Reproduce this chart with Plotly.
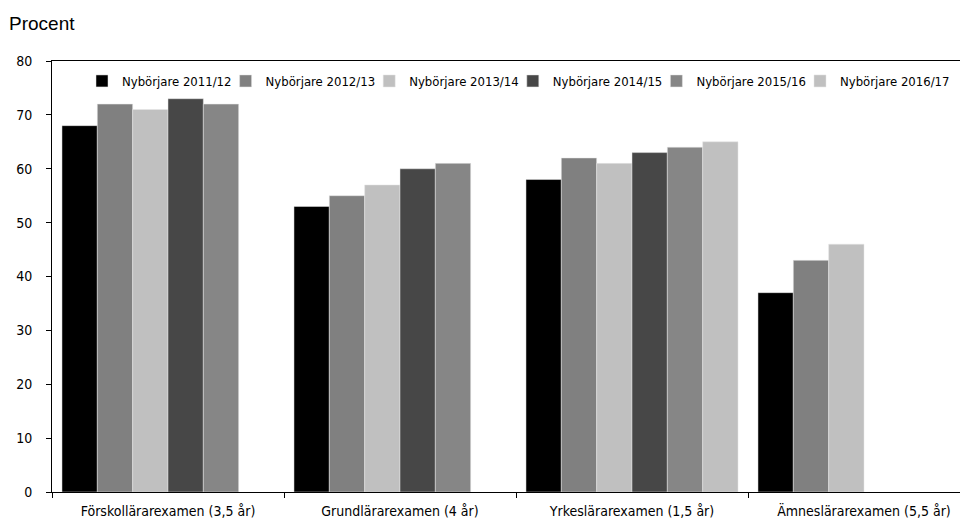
import plotly.graph_objects as go

categories = ["Förskollärarexamen (3,5 år)", "Grundlärarexamen (4 år)",
              "Yrkeslärarexamen (1,5 år)", "Ämneslärarexamen (5,5 år)"]
series_names = ["Nybörjare 2011/12", "Nybörjare 2012/13", "Nybörjare 2013/14",
                "Nybörjare 2014/15", "Nybörjare 2015/16", "Nybörjare 2016/17"]
v_2011 = [68, 53, 58, 37]
v_2012 = [72, 55, 62, 43]
v_2013 = [71, 57, 61, 46]
v_2014 = [73, 60, 63, None]
v_2015 = [72, 61, 64, None]
v_2016 = [None, None, 65, None]
series_values = [v_2011, v_2012, v_2013, v_2014, v_2015, v_2016]
colors = ["#000000", "#808080", "#c0c0c0", "#474747", "#868686", "#c0c0c0"]
y_ticks = [0, 10, 20, 30, 40, 50, 60, 70, 80]

NARROW = "DejaVu Sans Condensed, Liberation Sans Narrow, sans-serif"

# page body has an 8px margin; target plot area is x 52..968+, y 61..492
OFF = 8
W, H = 968 - OFF, 525 - OFF
L, R, T, B = 52 - OFF, 0, 61 - OFF, 33
pw = W - L - R
ph = H - T - B

legend_ids = ["legend"] + ["legend%d" % (i + 1) for i in range(1, len(series_names))]

fig = go.Figure()
for lid, name, vals, col in zip(legend_ids, series_names, series_values, colors):
    fig.add_trace(go.Bar(x=categories, y=vals, name=name, legend=lid,
                         marker=dict(color=col, line=dict(color="#e6e6e6", width=0.5))))

legend_layout = {}
for i, lid in enumerate(legend_ids):
    square_x = 97 + i * 143.6          # page x of the legend swatch
    legend_layout[lid] = dict(
        orientation="h", xanchor="left", x=(square_x - 15 - 52) / pw,
        y=1 - (66 - 61) / ph, yanchor="top",
        font=dict(family=NARROW, size=13, color="#000000"),
        bgcolor="rgba(0,0,0,0)", itemwidth=30, tracegroupgap=0)

fig.update_layout(
    width=W, height=H,
    margin=dict(l=L, r=R, t=T, b=B),
    paper_bgcolor="white", plot_bgcolor="white",
    barmode="group", bargap=0.086, bargroupgap=0,
    font=dict(family=NARROW, size=14, color="#000000"),
    showlegend=True,
    xaxis=dict(range=[-0.5, -0.5 + pw / 232.0], showgrid=False, zeroline=False,
               showline=True, linecolor="#000000", linewidth=1, mirror=True,
               ticks="outside", tickson="boundaries", ticklen=5, tickcolor="#000000",
               tickfont=dict(family=NARROW, size=14), ticklabelstandoff=6),
    yaxis=dict(range=[0, 80], tickvals=y_ticks, showgrid=False, zeroline=False,
               showline=True, linecolor="#000000", linewidth=1,
               ticks="outside", ticklen=5, tickcolor="#000000",
               tickfont=dict(family=NARROW, size=14), ticklabelstandoff=11),
    annotations=[dict(text="Procent", xref="paper", yref="paper",
                      x=-(52 - 7) / pw, xanchor="left",
                      y=1 + (61 - 24) / ph, yanchor="middle", showarrow=False,
                      font=dict(family="Liberation Sans, Arial, sans-serif", size=19,
                                color="#000000"))],
    **legend_layout,
)

fig.write_html("out.html")
